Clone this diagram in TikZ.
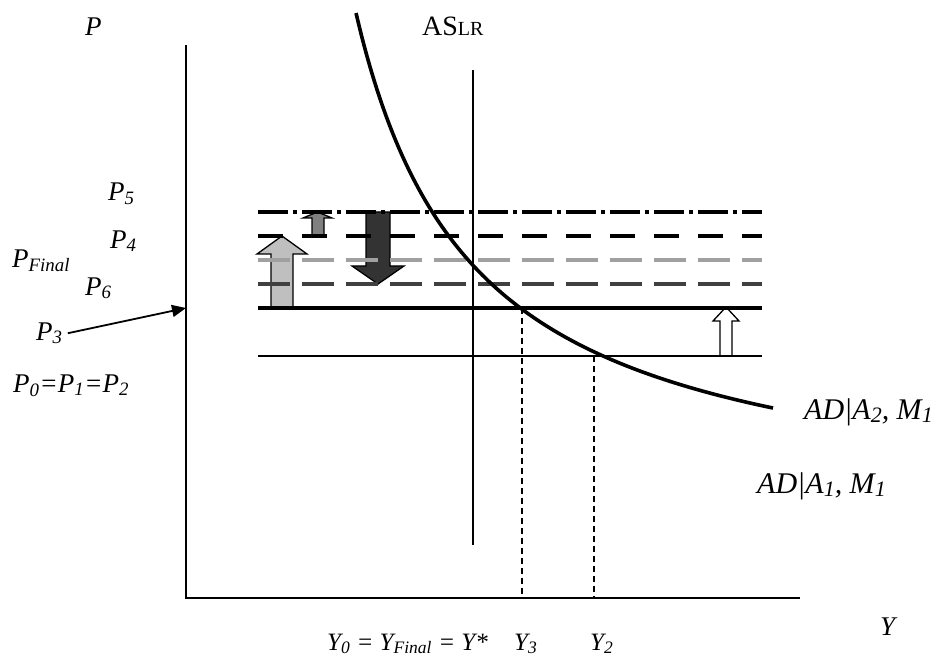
\documentclass[tikz,border=0pt]{standalone}
\usepackage{fontspec}
\setmainfont{Liberation Serif}
\usetikzlibrary{arrows.meta}
\definecolor{lightline}{HTML}{A0A0A0}
\definecolor{darkline}{HTML}{404040}
\newcommand{\bigsub}[1]{\raisebox{-3pt}{\fontsize{22}{22}\selectfont #1}}
\begin{document}
\begin{tikzpicture}[
    x=1pt, y=-1pt,
    every node/.style={inner sep=0pt, anchor=base west, font=\fontsize{27}{32}\selectfont\itshape},
    adlabel/.style={font=\fontsize{30}{34}\selectfont\itshape},
    ylabels/.style={font=\fontsize{25}{30}\selectfont\itshape},
    axis/.style={line width=1.6pt},
    pline/.style={line width=3.6pt},
    guide/.style={line width=1.1pt, dash pattern=on 6pt off 4pt},
    blockarrow/.style={draw=black, line width=1.3pt, line join=miter}
]
    \useasboundingbox (0,0) rectangle (939,660);
    \coordinate (origin) at (186,598);
    \coordinate (ytop) at (186,45);
    \coordinate (xend) at (800,598);
    \coordinate (lrtop) at (473,70);
    \coordinate (lrbot) at (473,545);
    \coordinate (p5l) at (258,212); \coordinate (p5r) at (762,212);
    \coordinate (p4l) at (258,236); \coordinate (p4r) at (762,236);
    \coordinate (pfl) at (258,260); \coordinate (pfr) at (762,260);
    \coordinate (p6l) at (258,284); \coordinate (p6r) at (762,284);
    \coordinate (p3l) at (258,308); \coordinate (p3r) at (762,308);
    \coordinate (p0l) at (258,356); \coordinate (p0r) at (762,356);
    \coordinate (y3top) at (522,308); \coordinate (y3bot) at (522,598);
    \coordinate (y2top) at (594,356); \coordinate (y2bot) at (594,598);

    \draw[blockarrow, fill=black!25] (271,307) -- (271,254) -- (257,254) -- (282,236) -- (307,254) -- (293,254) -- (293,307) -- cycle;
    \draw[blockarrow, fill=black!50] (312,236) -- (312,218) -- (303,218) -- (317.5,212) -- (332,218) -- (324,218) -- (324,236) -- cycle;
    \draw[blockarrow, fill=black!80] (366,212) -- (366,266) -- (352,266) -- (378,284) -- (404,266) -- (390,266) -- (390,212) -- cycle;
    \draw[blockarrow, fill=white] (720,356) -- (720,321) -- (713,321) -- (726,307) -- (739,321) -- (732,321) -- (732,356) -- cycle;

    \draw[axis] (ytop) -- (origin) -- (xend);
    \draw[line width=1.1pt] (lrtop) -- (lrbot);
    \draw[pline, dash pattern=on 30pt off 5pt on 4pt off 5pt] (p5l) -- (p5r);
    \draw[pline, dash pattern=on 25pt off 19pt] (p4l) -- (p4r);
    \draw[pline, lightline, dash pattern=on 32pt off 12pt] (pfl) -- (pfr);
    \draw[pline, darkline, dash pattern=on 32pt off 12pt] (p6l) -- (p6r);
    \draw[pline] (p3l) -- (p3r);
    \draw[line width=1.1pt] (p0l) -- (p0r);
    \draw[guide] (y3top) -- (y3bot);
    \draw[guide] (y2top) -- (y2bot);
    \draw[line width=3.6pt] plot[domain=356:773, samples=80, smooth] (\x, {519.8 - 597.99/((\x-238)/100)});

    \node (plabel) at (85,36) {P};
    \node[font=\fontsize{28}{32}\selectfont] (aslr) at (422,36) {AS{\fontsize{20}{20}\selectfont LR}};
    \node (p5) at (108,201) {P\textsubscript{5}};
    \node (p4) at (110,248) {P\textsubscript{4}};
    \node (pfinal) at (12,267) {P\textsubscript{Final}};
    \node (p6) at (85,295) {P\textsubscript{6}};
    \node (p3) at (36,340) {P\textsubscript{3}};
    \node (p0) at (13,392) {P\textsubscript{0}=P\textsubscript{1}=P\textsubscript{2}};
    \node[adlabel] (ad2) at (804,419) {AD|A\bigsub{2}, M\bigsub{1}};
    \node[adlabel] (ad1) at (757,493) {AD|A\bigsub{1}, M\bigsub{1}};
    \node (ylabel) at (880,635) {Y};
    \node[ylabels] (y0) at (327,650) {Y\textsubscript{0} = Y\textsubscript{Final} = Y*};
    \node[ylabels] (y3) at (514,650) {Y\textsubscript{3}};
    \node[ylabels] (y2) at (590,650) {Y\textsubscript{2}};

    \coordinate (paxis) at (186,308);
    \draw[line width=1.8pt, -{Triangle[length=14pt, width=12pt]}] ([xshift=5pt]p3.east) -- (paxis);
\end{tikzpicture}
\end{document}
